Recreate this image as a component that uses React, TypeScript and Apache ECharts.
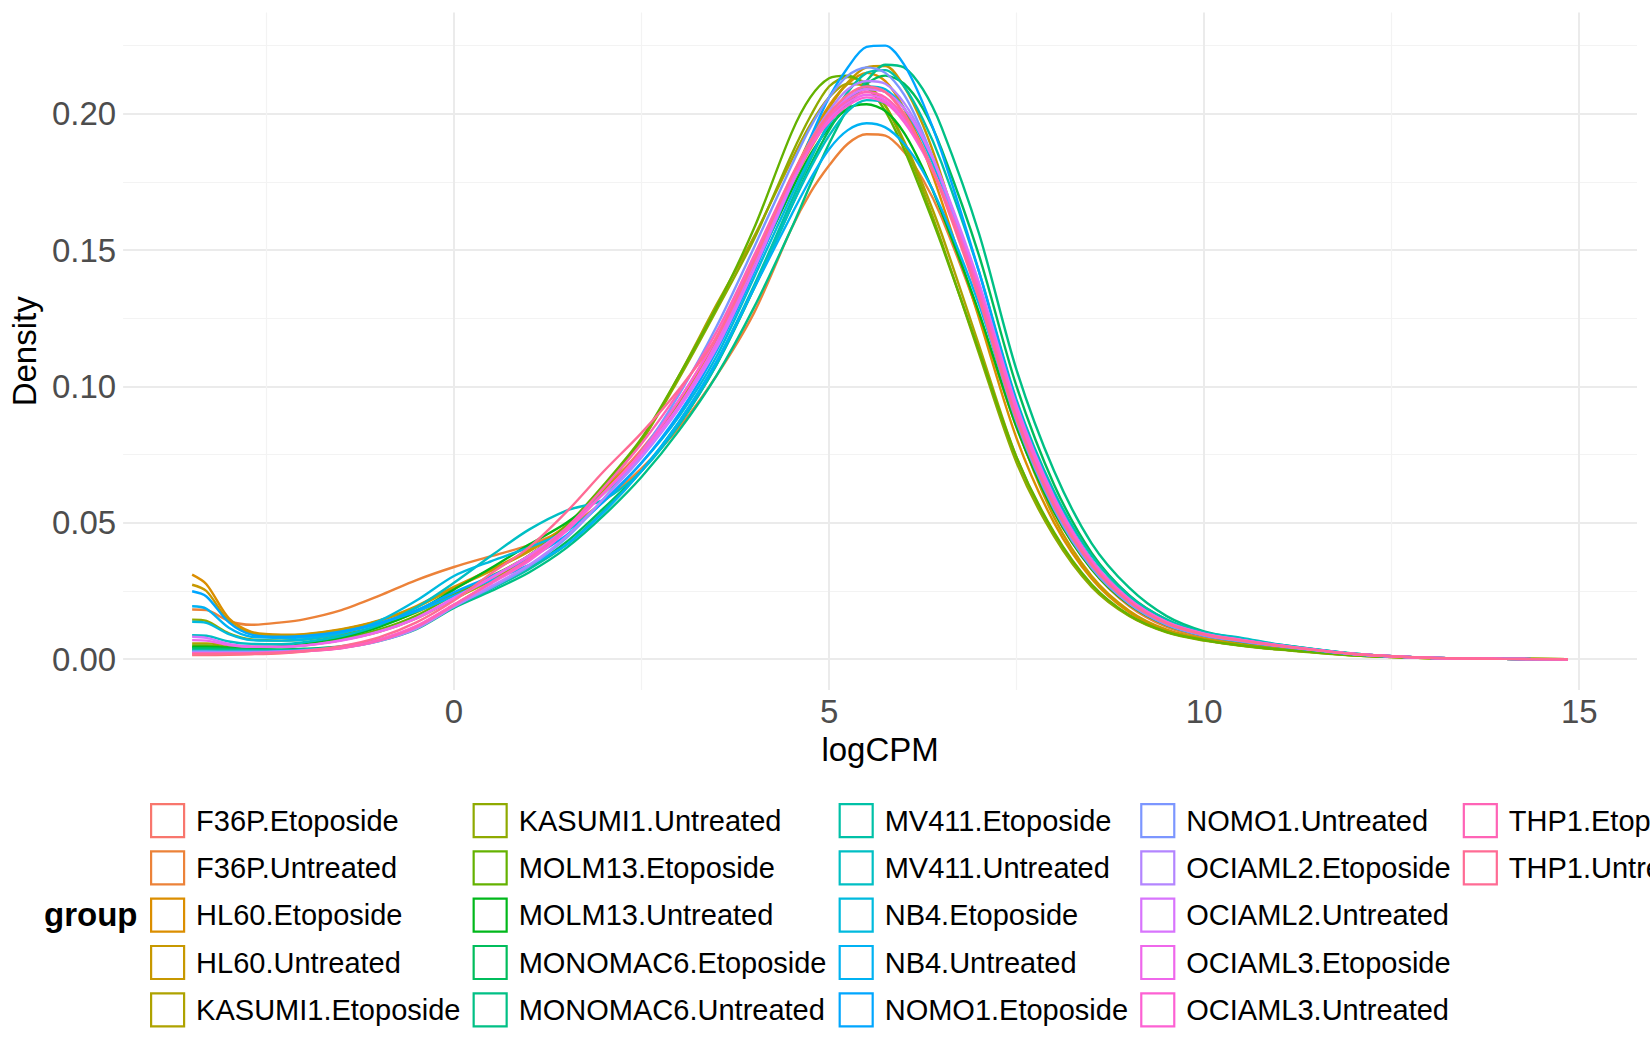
import React, { useEffect, useRef } from 'react';
import * as echarts from 'echarts';

// logCPM grid the densities were read at
const logCPM = [-3.49, -3.3, -3.0, -2.7, -2.3, -2.0, -1.5, -1.0, -0.5, 0, 0.5, 1.0, 1.5, 2.0, 2.5, 3.0, 3.5, 4.0, 4.5, 4.75, 5.0, 5.25, 5.5, 5.75, 6.0, 6.25, 6.5, 7.0, 7.5, 8.0, 8.5, 9.0, 9.5, 10.0, 10.5, 11.0, 12.0, 13.0, 14.0, 14.85];

const groups = [
    'F36P.Etoposide', 'F36P.Untreated', 'HL60.Etoposide', 'HL60.Untreated', 'KASUMI1.Etoposide',
    'KASUMI1.Untreated', 'MOLM13.Etoposide', 'MOLM13.Untreated', 'MONOMAC6.Etoposide', 'MONOMAC6.Untreated',
    'MV411.Etoposide', 'MV411.Untreated', 'NB4.Etoposide', 'NB4.Untreated', 'NOMO1.Etoposide',
    'NOMO1.Untreated', 'OCIAML2.Etoposide', 'OCIAML2.Untreated', 'OCIAML3.Etoposide', 'OCIAML3.Untreated',
    'THP1.Etoposide', 'THP1.Untreated'
];

const f36pEtoposide = [0.0015, 0.0015, 0.0016, 0.0018, 0.0022, 0.0028, 0.0042, 0.0070, 0.0120, 0.0200, 0.0282, 0.0370, 0.0480, 0.0620, 0.0770, 0.0950, 0.1180, 0.1460, 0.1740, 0.1870, 0.1980, 0.2050, 0.2090, 0.2080, 0.2000, 0.1880, 0.1720, 0.1330, 0.0880, 0.0560, 0.0340, 0.0200, 0.0125, 0.0085, 0.0065, 0.0048, 0.0019, 0.0005, 0.0001, 0];
const f36pUntreated = [0.0182, 0.0180, 0.0140, 0.0126, 0.0135, 0.0146, 0.0180, 0.0232, 0.0290, 0.0338, 0.0378, 0.0418, 0.0480, 0.0580, 0.0700, 0.0850, 0.1040, 0.1270, 0.1580, 0.1710, 0.1810, 0.1890, 0.1925, 0.1920, 0.1860, 0.1760, 0.1620, 0.1260, 0.0850, 0.0540, 0.0330, 0.0195, 0.0118, 0.0080, 0.0060, 0.0044, 0.0017, 0.0005, 0.0001, 0];
const hl60Etoposide = [0.0310, 0.0275, 0.0150, 0.0100, 0.0090, 0.0092, 0.0110, 0.0142, 0.0195, 0.0265, 0.0330, 0.0400, 0.0490, 0.0620, 0.0760, 0.0940, 0.1170, 0.1460, 0.1760, 0.1910, 0.2030, 0.2110, 0.2150, 0.2120, 0.2020, 0.1870, 0.1680, 0.1250, 0.0810, 0.0500, 0.0295, 0.0172, 0.0105, 0.0072, 0.0053, 0.0039, 0.0015, 0.0004, 0.0001, 0];
const hl60Untreated = [0.0273, 0.0250, 0.0140, 0.0096, 0.0088, 0.0090, 0.0108, 0.0140, 0.0190, 0.0260, 0.0325, 0.0395, 0.0485, 0.0610, 0.0745, 0.0925, 0.1150, 0.1440, 0.1740, 0.1895, 0.2020, 0.2115, 0.2170, 0.2175, 0.2100, 0.1960, 0.1770, 0.1320, 0.0860, 0.0520, 0.0305, 0.0178, 0.0108, 0.0074, 0.0055, 0.0040, 0.0015, 0.0004, 0.0001, 0];
const kasumi1Etoposide = [0.0058, 0.0058, 0.0050, 0.0046, 0.0046, 0.0051, 0.0070, 0.0100, 0.0150, 0.0220, 0.0290, 0.0370, 0.0480, 0.0625, 0.0800, 0.1040, 0.1300, 0.1550, 0.1830, 0.1960, 0.2060, 0.2110, 0.2100, 0.2030, 0.1900, 0.1740, 0.1560, 0.1150, 0.0740, 0.0460, 0.0270, 0.0160, 0.0100, 0.0070, 0.0050, 0.0036, 0.0014, 0.0004, 0.0001, 0];
const kasumi1Untreated = [0.0145, 0.0140, 0.0095, 0.0072, 0.0068, 0.0072, 0.0090, 0.0122, 0.0172, 0.0240, 0.0305, 0.0380, 0.0490, 0.0635, 0.0800, 0.1030, 0.1280, 0.1540, 0.1850, 0.1990, 0.2100, 0.2135, 0.2110, 0.2030, 0.1890, 0.1720, 0.1530, 0.1120, 0.0720, 0.0450, 0.0265, 0.0158, 0.0098, 0.0068, 0.0049, 0.0035, 0.0013, 0.0004, 0.0001, 0];
const molm13Etoposide = [0.0050, 0.0050, 0.0045, 0.0042, 0.0045, 0.0052, 0.0074, 0.0108, 0.0160, 0.0235, 0.0300, 0.0380, 0.0490, 0.0640, 0.0810, 0.1040, 0.1290, 0.1580, 0.1930, 0.2060, 0.2130, 0.2140, 0.2100, 0.2010, 0.1870, 0.1700, 0.1520, 0.1130, 0.0740, 0.0465, 0.0275, 0.0162, 0.0100, 0.0070, 0.0050, 0.0036, 0.0014, 0.0004, 0.0001, 0];
const molm13Untreated = [0.0045, 0.0045, 0.0042, 0.0042, 0.0046, 0.0055, 0.0080, 0.0118, 0.0175, 0.0255, 0.0335, 0.0420, 0.0500, 0.0610, 0.0750, 0.0930, 0.1150, 0.1430, 0.1720, 0.1850, 0.1950, 0.2020, 0.2035, 0.2010, 0.1930, 0.1800, 0.1640, 0.1270, 0.0850, 0.0540, 0.0330, 0.0200, 0.0125, 0.0086, 0.0064, 0.0047, 0.0018, 0.0005, 0.0001, 0];
const monomac6Etoposide = [0.0040, 0.0040, 0.0038, 0.0036, 0.0036, 0.0038, 0.0048, 0.0072, 0.0118, 0.0192, 0.0262, 0.0335, 0.0430, 0.0555, 0.0690, 0.0860, 0.1080, 0.1360, 0.1660, 0.1810, 0.1940, 0.2040, 0.2110, 0.2140, 0.2110, 0.2020, 0.1870, 0.1480, 0.1000, 0.0640, 0.0390, 0.0235, 0.0145, 0.0095, 0.0072, 0.0050, 0.0019, 0.0005, 0.0001, 0];
const monomac6Untreated = [0.0035, 0.0035, 0.0034, 0.0033, 0.0033, 0.0035, 0.0042, 0.0066, 0.0110, 0.0188, 0.0250, 0.0318, 0.0408, 0.0528, 0.0668, 0.0838, 0.1040, 0.1290, 0.1580, 0.1740, 0.1890, 0.2020, 0.2120, 0.2180, 0.2170, 0.2090, 0.1950, 0.1560, 0.1060, 0.0690, 0.0425, 0.0262, 0.0158, 0.0102, 0.0075, 0.0053, 0.0020, 0.0005, 0.0001, 0];
const mv411Etoposide = [0.0032, 0.0032, 0.0031, 0.0031, 0.0032, 0.0035, 0.0045, 0.0070, 0.0115, 0.0192, 0.0258, 0.0330, 0.0420, 0.0545, 0.0690, 0.0870, 0.1090, 0.1370, 0.1680, 0.1830, 0.1970, 0.2080, 0.2150, 0.2160, 0.2100, 0.1980, 0.1820, 0.1420, 0.0950, 0.0615, 0.0380, 0.0232, 0.0145, 0.0097, 0.0074, 0.0052, 0.0020, 0.0005, 0.0001, 0];
const mv411Untreated = [0.0088, 0.0086, 0.0065, 0.0056, 0.0055, 0.0062, 0.0085, 0.0125, 0.0190, 0.0280, 0.0380, 0.0475, 0.0545, 0.0585, 0.0690, 0.0860, 0.1080, 0.1360, 0.1660, 0.1800, 0.1920, 0.2010, 0.2050, 0.2040, 0.1980, 0.1870, 0.1720, 0.1340, 0.0900, 0.0580, 0.0360, 0.0222, 0.0140, 0.0098, 0.0078, 0.0054, 0.0020, 0.0005, 0.0001, 0];
const nb4Etoposide = [0.0137, 0.0133, 0.0092, 0.0070, 0.0068, 0.0072, 0.0095, 0.0140, 0.0215, 0.0305, 0.0360, 0.0410, 0.0470, 0.0580, 0.0720, 0.0890, 0.1110, 0.1400, 0.1700, 0.1840, 0.1960, 0.2050, 0.2100, 0.2090, 0.2020, 0.1900, 0.1740, 0.1350, 0.0900, 0.0575, 0.0352, 0.0215, 0.0135, 0.0092, 0.0070, 0.0050, 0.0019, 0.0005, 0.0001, 0];
const nb4Untreated = [0.0194, 0.0185, 0.0115, 0.0082, 0.0078, 0.0080, 0.0098, 0.0130, 0.0175, 0.0232, 0.0290, 0.0345, 0.0420, 0.0540, 0.0690, 0.0870, 0.1090, 0.1360, 0.1630, 0.1760, 0.1870, 0.1940, 0.1965, 0.1950, 0.1890, 0.1790, 0.1650, 0.1300, 0.0880, 0.0565, 0.0345, 0.0210, 0.0130, 0.0088, 0.0066, 0.0048, 0.0018, 0.0005, 0.0001, 0];
const nomo1Etoposide = [0.0249, 0.0230, 0.0135, 0.0090, 0.0082, 0.0085, 0.0102, 0.0132, 0.0180, 0.0245, 0.0305, 0.0370, 0.0455, 0.0580, 0.0720, 0.0900, 0.1130, 0.1420, 0.1740, 0.1910, 0.2060, 0.2170, 0.2245, 0.2250, 0.2180, 0.2040, 0.1860, 0.1420, 0.0940, 0.0600, 0.0365, 0.0220, 0.0136, 0.0092, 0.0070, 0.0050, 0.0019, 0.0005, 0.0001, 0];
const nomo1Untreated = [0.0028, 0.0028, 0.0027, 0.0027, 0.0029, 0.0033, 0.0044, 0.0070, 0.0118, 0.0195, 0.0262, 0.0340, 0.0445, 0.0590, 0.0760, 0.0970, 0.1220, 0.1510, 0.1810, 0.1950, 0.2060, 0.2140, 0.2170, 0.2150, 0.2070, 0.1930, 0.1750, 0.1320, 0.0870, 0.0550, 0.0335, 0.0203, 0.0126, 0.0086, 0.0065, 0.0047, 0.0018, 0.0005, 0.0001, 0];
const ociaml2Etoposide = [0.0025, 0.0025, 0.0025, 0.0025, 0.0027, 0.0031, 0.0041, 0.0066, 0.0112, 0.0192, 0.0268, 0.0345, 0.0450, 0.0590, 0.0740, 0.0920, 0.1150, 0.1450, 0.1760, 0.1900, 0.2010, 0.2090, 0.2120, 0.2110, 0.2040, 0.1920, 0.1760, 0.1360, 0.0900, 0.0575, 0.0350, 0.0212, 0.0132, 0.0090, 0.0068, 0.0049, 0.0019, 0.0005, 0.0001, 0];
const ociaml2Untreated = [0.0082, 0.0078, 0.0056, 0.0046, 0.0045, 0.0050, 0.0070, 0.0102, 0.0152, 0.0225, 0.0300, 0.0380, 0.0480, 0.0610, 0.0750, 0.0920, 0.1140, 0.1430, 0.1740, 0.1880, 0.1990, 0.2060, 0.2090, 0.2080, 0.2020, 0.1910, 0.1760, 0.1380, 0.0930, 0.0595, 0.0362, 0.0220, 0.0136, 0.0093, 0.0070, 0.0050, 0.0019, 0.0005, 0.0001, 0];
const ociaml3Etoposide = [0.0070, 0.0068, 0.0052, 0.0045, 0.0045, 0.0050, 0.0068, 0.0100, 0.0150, 0.0222, 0.0298, 0.0378, 0.0478, 0.0610, 0.0755, 0.0930, 0.1160, 0.1450, 0.1750, 0.1880, 0.1980, 0.2040, 0.2070, 0.2050, 0.1980, 0.1870, 0.1720, 0.1350, 0.0910, 0.0585, 0.0358, 0.0218, 0.0135, 0.0092, 0.0070, 0.0050, 0.0019, 0.0005, 0.0001, 0];
const ociaml3Untreated = [0.0022, 0.0022, 0.0022, 0.0023, 0.0026, 0.0030, 0.0043, 0.0072, 0.0122, 0.0200, 0.0278, 0.0360, 0.0470, 0.0610, 0.0760, 0.0950, 0.1180, 0.1470, 0.1760, 0.1880, 0.1970, 0.2030, 0.2060, 0.2040, 0.1970, 0.1860, 0.1720, 0.1360, 0.0920, 0.0590, 0.0362, 0.0220, 0.0137, 0.0094, 0.0071, 0.0051, 0.0019, 0.0005, 0.0001, 0];
const thp1Etoposide = [0.0020, 0.0020, 0.0020, 0.0021, 0.0024, 0.0029, 0.0040, 0.0068, 0.0118, 0.0198, 0.0282, 0.0368, 0.0482, 0.0630, 0.0790, 0.0980, 0.1200, 0.1480, 0.1770, 0.1890, 0.1990, 0.2050, 0.2080, 0.2060, 0.1990, 0.1870, 0.1720, 0.1340, 0.0890, 0.0570, 0.0350, 0.0212, 0.0132, 0.0090, 0.0068, 0.0049, 0.0019, 0.0005, 0.0001, 0];
const thp1Untreated = [0.0018, 0.0018, 0.0019, 0.0020, 0.0024, 0.0030, 0.0048, 0.0080, 0.0135, 0.0215, 0.0315, 0.0410, 0.0540, 0.0690, 0.0830, 0.0990, 0.1180, 0.1460, 0.1770, 0.1900, 0.2000, 0.2070, 0.2100, 0.2080, 0.2000, 0.1870, 0.1710, 0.1320, 0.0880, 0.0562, 0.0345, 0.0210, 0.0131, 0.0090, 0.0068, 0.0049, 0.0019, 0.0005, 0.0001, 0];

const densities = [
    f36pEtoposide, f36pUntreated, hl60Etoposide, hl60Untreated, kasumi1Etoposide,
    kasumi1Untreated, molm13Etoposide, molm13Untreated, monomac6Etoposide, monomac6Untreated,
    mv411Etoposide, mv411Untreated, nb4Etoposide, nb4Untreated, nomo1Etoposide,
    nomo1Untreated, ociaml2Etoposide, ociaml2Untreated, ociaml3Etoposide, ociaml3Untreated,
    thp1Etoposide, thp1Untreated
];

const yTicks = [0, 0.05, 0.1, 0.15, 0.2];
const yMinorTicks = [0.025, 0.075, 0.125, 0.175, 0.225];
const xTicks = [0, 5, 10, 15];
const xMinorTicks = [-2.5, 2.5, 7.5, 12.5];

const FONT = '"Liberation Sans", Arial, sans-serif';

// ggplot's hue palette: hcl(h, c = 100, l = 65)
function hueColor(h: number) {
    const l = 65, c = 100;
    const hr = (h * Math.PI) / 180;
    const U = c * Math.cos(hr), V = c * Math.sin(hr);
    const Xn = 95.047, Yn = 100, Zn = 108.883;
    const Y = Yn * Math.pow((l + 16) / 116, 3);
    const t = Xn + 15 * Yn + 3 * Zn;
    const u = U / (13 * l) + (4 * Xn) / t;
    const v = V / (13 * l) + (9 * Yn) / t;
    const X = (9 * Y * u) / (4 * v);
    const Z = -X / 3 - 5 * Y + (3 * Y) / v;
    const x = X / 100, y = Y / 100, z = Z / 100;
    const lin = [
        3.240479 * x - 1.53715 * y - 0.498535 * z,
        -0.969256 * x + 1.875992 * y + 0.041556 * z,
        0.055648 * x - 0.204043 * y + 1.057311 * z
    ];
    return '#' + lin.map((cv) => {
        const g = cv <= 0.0031308 ? 12.92 * cv : 1.055 * Math.pow(cv, 1 / 2.4) - 0.055;
        const n = Math.round(Math.min(1, Math.max(0, g)) * 255);
        return n.toString(16).padStart(2, '0');
    }).join('');
}

const palette = groups.map((_, i) => hueColor(15 + (360 / groups.length) * i));

const App: React.FC = () => {
    const chartRef = useRef<HTMLDivElement>(null);

    useEffect(() => {
        document.body.style.margin = '0';
        if (!chartRef.current) return;
        const chart = echarts.init(chartRef.current, undefined, { renderer: 'svg' });

        const splitMajor = { show: true, lineStyle: { color: '#EBEBEB', width: 2 } };
        const splitMinor = { show: true, lineStyle: { color: '#F3F3F3', width: 1.2 } };

        chart.setOption({
            animation: false,
            backgroundColor: '#FFFFFF',
            textStyle: { fontFamily: FONT },
            grid: { left: 121, right: 13, top: 12.6, bottom: 360, containLabel: false },
            xAxis: [
                {
                    type: 'value', min: -4.41, max: 15.77,
                    axisLine: { show: false },
                    axisTick: { show: false, customValues: xTicks },
                    axisLabel: { customValues: xTicks, color: '#4D4D4D', fontSize: 33, margin: 5, fontFamily: FONT },
                    splitLine: splitMajor,
                    name: 'logCPM', nameLocation: 'middle', nameGap: 33,
                    nameTextStyle: { color: '#000000', fontSize: 33, fontFamily: FONT }
                },
                {
                    type: 'value', min: -4.41, max: 15.77, position: 'bottom',
                    axisLine: { show: false },
                    axisTick: { show: false, customValues: xMinorTicks },
                    axisLabel: { show: false, customValues: xMinorTicks },
                    splitLine: splitMinor
                }
            ],
            yAxis: [
                {
                    type: 'value', min: -0.0113, max: 0.2371,
                    axisLine: { show: false },
                    axisTick: { show: false, customValues: yTicks },
                    axisLabel: {
                        customValues: yTicks, color: '#4D4D4D', fontSize: 33, margin: 7, fontFamily: FONT,
                        formatter: (v: number) => v.toFixed(2)
                    },
                    splitLine: splitMajor,
                    name: 'Density', nameLocation: 'middle', nameGap: 80,
                    nameTextStyle: { color: '#000000', fontSize: 33, fontFamily: FONT }
                },
                {
                    type: 'value', min: -0.0113, max: 0.2371, position: 'left',
                    axisLine: { show: false },
                    axisTick: { show: false, customValues: yMinorTicks },
                    axisLabel: { show: false, customValues: yMinorTicks },
                    splitLine: splitMinor
                }
            ],
            legend: {
                orient: 'vertical',
                left: 150,
                top: 803,
                height: 240,
                padding: 0,
                itemGap: 12.1,
                itemWidth: 33,
                itemHeight: 33,
                icon: 'rect',
                selectedMode: false,
                textStyle: { color: '#000000', fontSize: 29, fontFamily: FONT, lineHeight: 28, padding: [0, 0, 0, 7] },
                data: groups.map((name, i) => ({
                    name,
                    itemStyle: { color: '#FFFFFF', borderColor: palette[i], borderWidth: 2.2 }
                }))
            },
            graphic: [
                {
                    type: 'text', x: 44, y: 914,
                    style: {
                        text: 'group', fill: '#000000', fontSize: 33, fontWeight: 'bold',
                        fontFamily: FONT, verticalAlign: 'middle', align: 'left'
                    }
                }
            ],
            series: groups.map((name, i) => ({
                type: 'line',
                name,
                xAxisIndex: 0,
                yAxisIndex: 0,
                data: logCPM.map((x, j) => [x, densities[i][j]]),
                showSymbol: false,
                smooth: 0.3,
                silent: true,
                color: palette[i],
                lineStyle: { width: 2.4, color: palette[i] }
            }))
        });

        return () => {
            chart.dispose();
        };
    }, []);

    return <div ref={chartRef} style={{ width: '1650px', height: '1050px' }}></div>;
};

export default App;
